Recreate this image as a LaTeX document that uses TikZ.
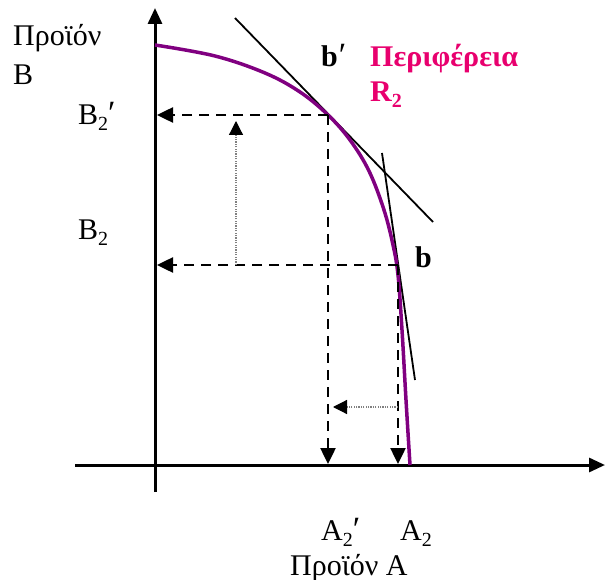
\documentclass[tikz,border=0pt]{standalone}
\usepackage{fontspec}
\setmainfont{Liberation Serif}
\usetikzlibrary{arrows.meta}
\definecolor{curvecol}{RGB}{128,0,128}
\definecolor{labcol}{RGB}{232,0,110}
\newcommand\sbs[1]{\raisebox{-6pt}{\fontsize{20}{20}\selectfont #1}}
\newcommand\prm{{\fontsize{34}{34}\selectfont\mdseries ′}}
\tikzset{
  axis/.style={line width=3pt,-{Triangle[length=16pt,width=14pt]}},
  dline/.style={line width=2.5pt,dash pattern=on 10pt off 7pt,-{Triangle[length=16pt,width=15pt]}},
  dotarrow/.style={gray,line width=1.2pt,dash pattern=on 1.2pt off 1.2pt,-{Triangle[length=14pt,width=14pt,black]}},
  tang/.style={line width=1.8pt},
  lab/.style={font=\fontsize{30}{32}\selectfont,inner sep=0pt,anchor=base west},
  blab/.style={font=\fontsize{30}{32}\selectfont\bfseries,inner sep=0pt,anchor=base west}
}
\begin{document}
\begin{tikzpicture}[x=1pt,y=-1pt]
\useasboundingbox (0,0) rectangle (605,580);
% axes
\coordinate (o1) at (155,492);
\coordinate (ytop) at (155,8);
\coordinate (x0) at (75,465);
\coordinate (xend) at (605,465);
\draw[axis] (o1) -- (ytop);
\draw[axis] (x0) -- (xend);
% key points
\coordinate (bp) at (328,115);
\coordinate (b) at (398,265);
\coordinate (bpY) at (157,115);
\coordinate (bY) at (157,265);
\coordinate (bpX) at (328,464);
\coordinate (bX) at (398,464);
% tangents
\coordinate (t1a) at (235,18);
\coordinate (t1b) at (433,222);
\coordinate (t2a) at (382,153);
\coordinate (t2b) at (415,380);
\draw[tang] (t1a) -- (t1b);
\draw[tang] (t2a) -- (t2b);
% curve
\draw[curvecol,line width=3.5pt] plot[smooth,tension=0.6] coordinates
 {(155,45) (215,56) (265,73) (300,92) (328,115) (350,140) (369,171) (384,210) (393,245) (398,275) (402,330) (406,400) (410,465)};
% dashed
\draw[dline] (bp) -- (bpY);
\draw[dline] (bp) -- (bpX);
\draw[dline] (b) -- (bY);
\draw[dline] (b) -- (bX);
% dotted arrows
\coordinate (d1a) at (236,265);
\coordinate (d1b) at (236,121);
\coordinate (d2a) at (398,407);
\coordinate (d2b) at (333,407);
\draw[dotarrow] (d1a) -- (d1b);
\draw[dotarrow] (d2a) -- (d2b);
% labels
\node[lab] (pb) at (13,46) {Προϊόν};
\node[lab] (pbB) at (13,85) {B};
\node[lab] (lbp) at (78,125) {B\sbs{2}\prm};
\node[lab] (lb) at (78,240) {B\sbs{2}};
\node[blab] (lbpt) at (321,67) {b\kern1pt\prm};
\node[blab,text=labcol] (per) at (370,67) {Περιφέρεια};
\node[blab,text=labcol] (r2) at (370,102) {R\sbs{2}};
\node[blab] (lbt) at (415,267) {b};
\node[lab] (la2p) at (321,540) {A\sbs{2}\prm};
\node[lab] (la2) at (400,540) {A\sbs{2}};
\node[lab] (pa) at (290,575) {Προϊόν A};
\end{tikzpicture}
\end{document}
